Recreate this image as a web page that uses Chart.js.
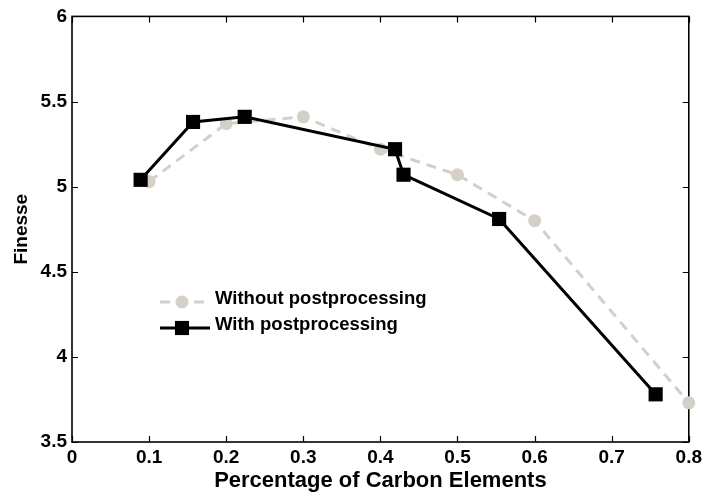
<!DOCTYPE html>
<html>
<head>
<meta charset="utf-8">
<script src="https://cdn.jsdelivr.net/npm/chart.js@4.4.0/dist/chart.umd.min.js"></script>
<style>
  html, body { margin: 0; padding: 0; background: #ffffff; }
  #wrap { width: 706px; height: 498px; }
</style>
</head>
<body>
<div id="wrap"><canvas id="c" width="706" height="498"></canvas></div>
<script>
// Finesse against carbon-element percentage, with and without postprocessing
const carbonWithout = [0.1, 0.2, 0.3, 0.4, 0.5, 0.6, 0.8];
const finesseWithout = [5.03, 5.37, 5.41, 5.22, 5.07, 4.80, 3.73];

const carbonWith = [0.089, 0.157, 0.224, 0.419, 0.43, 0.554, 0.757];
const finesseWith = [5.04, 5.38, 5.41, 5.22, 5.07, 4.81, 3.78];

const xTickValues = [0, 0.1, 0.2, 0.3, 0.4, 0.5, 0.6, 0.7, 0.8];
const xTickLabels = ['0', '0.1', '0.2', '0.3', '0.4', '0.5', '0.6', '0.7', '0.8'];
const yTickValues = [3.5, 4, 4.5, 5, 5.5, 6];
const yTickLabels = ['3.5', '4', '4.5', '5', '5.5', '6'];

const seriesNames = ['Without postprocessing', 'With postprocessing'];

const GRAY = 'rgb(212,208,200)';
const FONT = '"Liberation Sans", Arial, Helvetica, sans-serif';

const toPoints = (xs, ys) => xs.map((x, i) => ({ x: x, y: ys[i] }));

// Closed axes box with inward tick marks on all four sides (drawn under the data)
const boxPlugin = {
  id: 'axesBox',
  beforeDatasetsDraw(chart) {
    const { ctx, chartArea: a, scales } = chart;
    ctx.save();
    ctx.strokeStyle = '#000';
    ctx.lineWidth = 1.2;
    const len = 6;
    ctx.beginPath();
    scales.x.ticks.forEach(t => {
      const px = Math.round(scales.x.getPixelForValue(t.value)) + 0.5;
      ctx.moveTo(px, a.bottom); ctx.lineTo(px, a.bottom - len);
      ctx.moveTo(px, a.top); ctx.lineTo(px, a.top + len);
    });
    scales.y.ticks.forEach(t => {
      const py = Math.round(scales.y.getPixelForValue(t.value)) + 0.5;
      ctx.moveTo(a.left, py); ctx.lineTo(a.left + len, py);
      ctx.moveTo(a.right, py); ctx.lineTo(a.right - len, py);
    });
    ctx.stroke();
    ctx.lineWidth = 1.6;
    ctx.strokeRect(a.left, a.top, a.right - a.left, a.bottom - a.top);
    ctx.restore();
  }
};

// Legend drawn as line + marker samples
const legendPlugin = {
  id: 'lineLegend',
  afterDraw(chart) {
    const { ctx } = chart;
    const rows = [
      { ds: chart.data.datasets[1], y: 302 },
      { ds: chart.data.datasets[0], y: 328 }
    ];
    ctx.save();
    rows.forEach(r => {
      const ds = r.ds;
      ctx.strokeStyle = ds.borderColor;
      ctx.lineWidth = ds.borderWidth;
      ctx.setLineDash(ds.borderDash || []);
      ctx.beginPath();
      ctx.moveTo(160, r.y);
      ctx.lineTo(210, r.y);
      ctx.stroke();
      ctx.setLineDash([]);
      ctx.fillStyle = ds.pointBackgroundColor;
      Chart.helpers.drawPoint(ctx, {
        pointStyle: ds.pointStyle,
        radius: ds.pointRadius,
        borderWidth: 0,
        rotation: 0
      }, 182, r.y);
      ctx.fillStyle = '#000';
      ctx.font = 'bold 18.5px ' + FONT;
      ctx.textBaseline = 'middle';
      ctx.textAlign = 'left';
      ctx.fillText(ds.label, 215, r.y - 3);
    });
    ctx.restore();
  }
};

new Chart(document.getElementById('c'), {
  type: 'line',
  data: {
    datasets: [
      {
        label: seriesNames[1],
        data: toPoints(carbonWith, finesseWith),
        borderColor: '#000',
        backgroundColor: '#000',
        borderWidth: 3,
        pointStyle: 'rect',
        pointRadius: 10,
        pointBorderWidth: 0,
        pointBackgroundColor: '#000',
        tension: 0,
        clip: false,
        order: 1
      },
      {
        label: seriesNames[0],
        data: toPoints(carbonWithout, finesseWithout),
        borderColor: GRAY,
        backgroundColor: GRAY,
        borderWidth: 3,
        borderDash: [10, 7],
        pointStyle: 'circle',
        pointRadius: 6.5,
        pointBorderWidth: 0,
        pointBackgroundColor: GRAY,
        tension: 0,
        clip: false,
        order: 2
      }
    ]
  },
  options: {
    responsive: false,
    animation: false,
    devicePixelRatio: 1,
    layout: { padding: { left: 0, right: 17, top: 16, bottom: 0 } },
    plugins: { legend: { display: false }, tooltip: { enabled: false } },
    scales: {
      x: {
        type: 'linear',
        min: 0, max: 0.8,
        afterBuildTicks(s) { s.ticks = xTickValues.map(v => ({ value: v })); },
        afterFit(s) { s.height = 56; },
        grid: { display: false, drawTicks: false },
        border: { display: false },
        ticks: {
          padding: 4,
          color: '#000',
          maxRotation: 0,
          autoSkip: false,
          font: { family: FONT, size: 19, weight: 'bold' },
          callback: (v, i) => xTickLabels[i]
        },
        title: {
          display: true,
          text: 'Percentage of Carbon Elements',
          color: '#000',
          font: { family: FONT, size: 22, weight: 'bold' },
          padding: { top: 0, bottom: 4 }
        }
      },
      y: {
        type: 'linear',
        min: 3.5, max: 6,
        afterBuildTicks(s) { s.ticks = yTickValues.map(v => ({ value: v })); },
        afterFit(s) { s.width = 72; },
        grid: { display: false, drawTicks: false },
        border: { display: false },
        ticks: {
          padding: 5,
          color: '#000',
          autoSkip: false,
          font: { family: FONT, size: 19, weight: 'bold' },
          callback: (v, i) => yTickLabels[i]
        },
        title: {
          display: true,
          text: 'Finesse',
          color: '#000',
          font: { family: FONT, size: 19, weight: 'bold' },
          padding: { top: 10, bottom: 0 }
        }
      }
    }
  },
  plugins: [boxPlugin, legendPlugin]
});
</script>
</body>
</html>
